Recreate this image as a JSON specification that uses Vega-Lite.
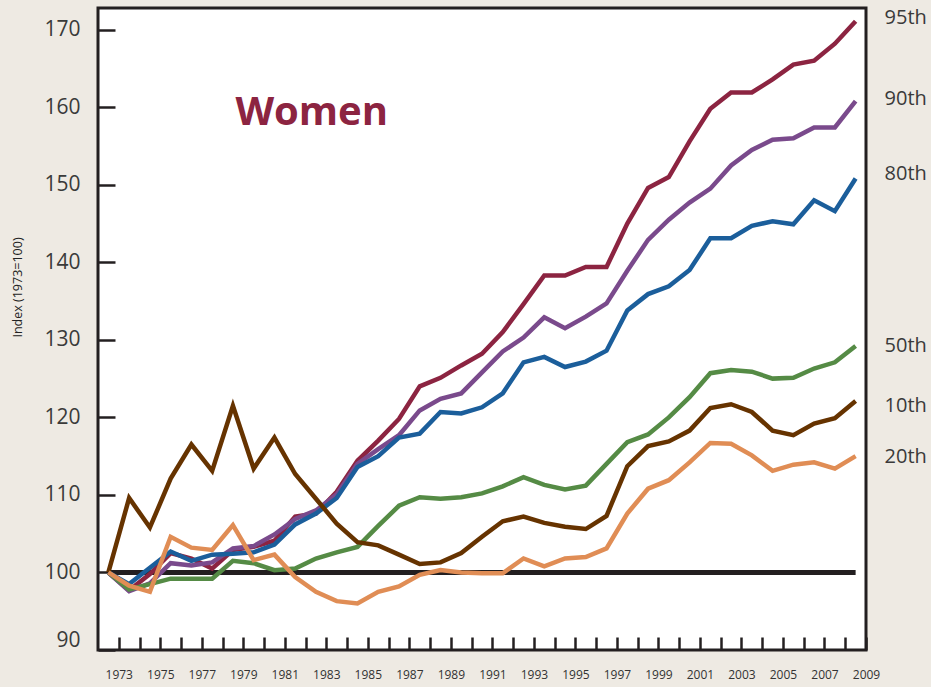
{
  "$schema": "https://vega.github.io/schema/vega-lite/v6.json",
  "width": 768,
  "height": 642,
  "autosize": "none",
  "padding": {"left": 98, "top": 8, "right": 65, "bottom": 37},
  "background": "#eeeae3",
  "config": {
    "view": {"fill": "#ffffff", "stroke": "#231f20", "strokeWidth": 3},
    "font": "Open Sans"
  },
  "datasets": {
    "base": [{"year": 1973, "value": 100}, {"year": 2009, "value": 100}],
    "series": [
      {"year":1973,"pct":"95th","value":100},{"year":1974,"pct":"95th","value":97.7},{"year":1975,"pct":"95th","value":99.8},{"year":1976,"pct":"95th","value":102.5},{"year":1977,"pct":"95th","value":101.8},{"year":1978,"pct":"95th","value":100.5},{"year":1979,"pct":"95th","value":102.9},{"year":1980,"pct":"95th","value":103.3},{"year":1981,"pct":"95th","value":104.1},{"year":1982,"pct":"95th","value":107.2},{"year":1983,"pct":"95th","value":107.6},{"year":1984,"pct":"95th","value":110.4},{"year":1985,"pct":"95th","value":114.4},{"year":1986,"pct":"95th","value":117.0},{"year":1987,"pct":"95th","value":119.8},{"year":1988,"pct":"95th","value":124.0},{"year":1989,"pct":"95th","value":125.1},{"year":1990,"pct":"95th","value":126.7},{"year":1991,"pct":"95th","value":128.2},{"year":1992,"pct":"95th","value":131.0},{"year":1993,"pct":"95th","value":134.6},{"year":1994,"pct":"95th","value":138.3},{"year":1995,"pct":"95th","value":138.3},{"year":1996,"pct":"95th","value":139.4},{"year":1997,"pct":"95th","value":139.4},{"year":1998,"pct":"95th","value":145.0},{"year":1999,"pct":"95th","value":149.6},{"year":2000,"pct":"95th","value":151.0},{"year":2001,"pct":"95th","value":155.6},{"year":2002,"pct":"95th","value":159.8},{"year":2003,"pct":"95th","value":161.9},{"year":2004,"pct":"95th","value":161.9},{"year":2005,"pct":"95th","value":163.6},{"year":2006,"pct":"95th","value":165.5},{"year":2007,"pct":"95th","value":166.0},{"year":2008,"pct":"95th","value":168.2},{"year":2009,"pct":"95th","value":171.1},
      {"year":1973,"pct":"90th","value":100},{"year":1974,"pct":"90th","value":97.6},{"year":1975,"pct":"90th","value":98.6},{"year":1976,"pct":"90th","value":101.2},{"year":1977,"pct":"90th","value":100.9},{"year":1978,"pct":"90th","value":101.3},{"year":1979,"pct":"90th","value":103.1},{"year":1980,"pct":"90th","value":103.4},{"year":1981,"pct":"90th","value":104.9},{"year":1982,"pct":"90th","value":106.9},{"year":1983,"pct":"90th","value":108.0},{"year":1984,"pct":"90th","value":110.1},{"year":1985,"pct":"90th","value":114.0},{"year":1986,"pct":"90th","value":115.9},{"year":1987,"pct":"90th","value":117.7},{"year":1988,"pct":"90th","value":120.9},{"year":1989,"pct":"90th","value":122.4},{"year":1990,"pct":"90th","value":123.1},{"year":1991,"pct":"90th","value":125.8},{"year":1992,"pct":"90th","value":128.5},{"year":1993,"pct":"90th","value":130.3},{"year":1994,"pct":"90th","value":132.9},{"year":1995,"pct":"90th","value":131.5},{"year":1996,"pct":"90th","value":133.0},{"year":1997,"pct":"90th","value":134.7},{"year":1998,"pct":"90th","value":138.9},{"year":1999,"pct":"90th","value":142.9},{"year":2000,"pct":"90th","value":145.5},{"year":2001,"pct":"90th","value":147.7},{"year":2002,"pct":"90th","value":149.5},{"year":2003,"pct":"90th","value":152.5},{"year":2004,"pct":"90th","value":154.5},{"year":2005,"pct":"90th","value":155.8},{"year":2006,"pct":"90th","value":156.0},{"year":2007,"pct":"90th","value":157.4},{"year":2008,"pct":"90th","value":157.4},{"year":2009,"pct":"90th","value":160.8},
      {"year":1973,"pct":"50th","value":100},{"year":1974,"pct":"50th","value":97.8},{"year":1975,"pct":"50th","value":98.5},{"year":1976,"pct":"50th","value":99.2},{"year":1977,"pct":"50th","value":99.2},{"year":1978,"pct":"50th","value":99.2},{"year":1979,"pct":"50th","value":101.5},{"year":1980,"pct":"50th","value":101.2},{"year":1981,"pct":"50th","value":100.3},{"year":1982,"pct":"50th","value":100.5},{"year":1983,"pct":"50th","value":101.8},{"year":1984,"pct":"50th","value":102.6},{"year":1985,"pct":"50th","value":103.3},{"year":1986,"pct":"50th","value":106.0},{"year":1987,"pct":"50th","value":108.6},{"year":1988,"pct":"50th","value":109.7},{"year":1989,"pct":"50th","value":109.5},{"year":1990,"pct":"50th","value":109.7},{"year":1991,"pct":"50th","value":110.2},{"year":1992,"pct":"50th","value":111.1},{"year":1993,"pct":"50th","value":112.3},{"year":1994,"pct":"50th","value":111.3},{"year":1995,"pct":"50th","value":110.7},{"year":1996,"pct":"50th","value":111.2},{"year":1997,"pct":"50th","value":114.0},{"year":1998,"pct":"50th","value":116.8},{"year":1999,"pct":"50th","value":117.8},{"year":2000,"pct":"50th","value":120.0},{"year":2001,"pct":"50th","value":122.6},{"year":2002,"pct":"50th","value":125.7},{"year":2003,"pct":"50th","value":126.1},{"year":2004,"pct":"50th","value":125.9},{"year":2005,"pct":"50th","value":125.0},{"year":2006,"pct":"50th","value":125.1},{"year":2007,"pct":"50th","value":126.3},{"year":2008,"pct":"50th","value":127.1},{"year":2009,"pct":"50th","value":129.2},
      {"year":1973,"pct":"80th","value":100},{"year":1974,"pct":"80th","value":98.5},{"year":1975,"pct":"80th","value":100.6},{"year":1976,"pct":"80th","value":102.7},{"year":1977,"pct":"80th","value":101.5},{"year":1978,"pct":"80th","value":102.3},{"year":1979,"pct":"80th","value":102.4},{"year":1980,"pct":"80th","value":102.6},{"year":1981,"pct":"80th","value":103.6},{"year":1982,"pct":"80th","value":106.2},{"year":1983,"pct":"80th","value":107.6},{"year":1984,"pct":"80th","value":109.6},{"year":1985,"pct":"80th","value":113.6},{"year":1986,"pct":"80th","value":115.0},{"year":1987,"pct":"80th","value":117.4},{"year":1988,"pct":"80th","value":117.9},{"year":1989,"pct":"80th","value":120.7},{"year":1990,"pct":"80th","value":120.5},{"year":1991,"pct":"80th","value":121.3},{"year":1992,"pct":"80th","value":123.1},{"year":1993,"pct":"80th","value":127.1},{"year":1994,"pct":"80th","value":127.8},{"year":1995,"pct":"80th","value":126.5},{"year":1996,"pct":"80th","value":127.2},{"year":1997,"pct":"80th","value":128.6},{"year":1998,"pct":"80th","value":133.8},{"year":1999,"pct":"80th","value":135.9},{"year":2000,"pct":"80th","value":136.9},{"year":2001,"pct":"80th","value":139.0},{"year":2002,"pct":"80th","value":143.1},{"year":2003,"pct":"80th","value":143.1},{"year":2004,"pct":"80th","value":144.7},{"year":2005,"pct":"80th","value":145.3},{"year":2006,"pct":"80th","value":144.9},{"year":2007,"pct":"80th","value":148.0},{"year":2008,"pct":"80th","value":146.6},{"year":2009,"pct":"80th","value":150.8},
      {"year":1973,"pct":"10th","value":100},{"year":1974,"pct":"10th","value":109.6},{"year":1975,"pct":"10th","value":105.8},{"year":1976,"pct":"10th","value":112.1},{"year":1977,"pct":"10th","value":116.5},{"year":1978,"pct":"10th","value":113.1},{"year":1979,"pct":"10th","value":121.5},{"year":1980,"pct":"10th","value":113.4},{"year":1981,"pct":"10th","value":117.4},{"year":1982,"pct":"10th","value":112.7},{"year":1983,"pct":"10th","value":109.5},{"year":1984,"pct":"10th","value":106.3},{"year":1985,"pct":"10th","value":103.9},{"year":1986,"pct":"10th","value":103.5},{"year":1987,"pct":"10th","value":102.3},{"year":1988,"pct":"10th","value":101.1},{"year":1989,"pct":"10th","value":101.3},{"year":1990,"pct":"10th","value":102.5},{"year":1991,"pct":"10th","value":104.6},{"year":1992,"pct":"10th","value":106.6},{"year":1993,"pct":"10th","value":107.2},{"year":1994,"pct":"10th","value":106.4},{"year":1995,"pct":"10th","value":105.9},{"year":1996,"pct":"10th","value":105.6},{"year":1997,"pct":"10th","value":107.3},{"year":1998,"pct":"10th","value":113.7},{"year":1999,"pct":"10th","value":116.3},{"year":2000,"pct":"10th","value":116.9},{"year":2001,"pct":"10th","value":118.3},{"year":2002,"pct":"10th","value":121.2},{"year":2003,"pct":"10th","value":121.7},{"year":2004,"pct":"10th","value":120.7},{"year":2005,"pct":"10th","value":118.3},{"year":2006,"pct":"10th","value":117.7},{"year":2007,"pct":"10th","value":119.2},{"year":2008,"pct":"10th","value":119.9},{"year":2009,"pct":"10th","value":122.1},
      {"year":1973,"pct":"20th","value":100},{"year":1974,"pct":"20th","value":98.3},{"year":1975,"pct":"20th","value":97.5},{"year":1976,"pct":"20th","value":104.6},{"year":1977,"pct":"20th","value":103.2},{"year":1978,"pct":"20th","value":102.9},{"year":1979,"pct":"20th","value":106.1},{"year":1980,"pct":"20th","value":101.6},{"year":1981,"pct":"20th","value":102.3},{"year":1982,"pct":"20th","value":99.4},{"year":1983,"pct":"20th","value":97.5},{"year":1984,"pct":"20th","value":96.3},{"year":1985,"pct":"20th","value":96.0},{"year":1986,"pct":"20th","value":97.5},{"year":1987,"pct":"20th","value":98.2},{"year":1988,"pct":"20th","value":99.7},{"year":1989,"pct":"20th","value":100.3},{"year":1990,"pct":"20th","value":100.0},{"year":1991,"pct":"20th","value":99.9},{"year":1992,"pct":"20th","value":99.9},{"year":1993,"pct":"20th","value":101.8},{"year":1994,"pct":"20th","value":100.8},{"year":1995,"pct":"20th","value":101.8},{"year":1996,"pct":"20th","value":102.0},{"year":1997,"pct":"20th","value":103.1},{"year":1998,"pct":"20th","value":107.6},{"year":1999,"pct":"20th","value":110.8},{"year":2000,"pct":"20th","value":111.9},{"year":2001,"pct":"20th","value":114.2},{"year":2002,"pct":"20th","value":116.7},{"year":2003,"pct":"20th","value":116.6},{"year":2004,"pct":"20th","value":115.1},{"year":2005,"pct":"20th","value":113.1},{"year":2006,"pct":"20th","value":113.9},{"year":2007,"pct":"20th","value":114.2},{"year":2008,"pct":"20th","value":113.4},{"year":2009,"pct":"20th","value":115.0}
    ],
    "endlabels": [
      {"year": 2009, "value": 170.7, "label": "95th"},
      {"year": 2009, "value": 160.3, "label": "90th"},
      {"year": 2009, "value": 150.6, "label": "80th"},
      {"year": 2009, "value": 128.4, "label": "50th"},
      {"year": 2009, "value": 120.7, "label": "10th"},
      {"year": 2009, "value": 114.1, "label": "20th"}
    ],
    "heading": [{"year": 1979.12, "value": 157.7, "label": "Women"}]
  },
  "encoding": {
    "x": {
      "field": "year",
      "type": "quantitative",
      "scale": {"domain": [1972.5, 2009.5], "nice": false, "zero": false},
      "axis": {
        "values": [1973.5,1974.5,1975.5,1976.5,1977.5,1978.5,1979.5,1980.5,1981.5,1982.5,1983.5,1984.5,1985.5,1986.5,1987.5,1988.5,1989.5,1990.5,1991.5,1992.5,1993.5,1994.5,1995.5,1996.5,1997.5,1998.5,1999.5,2000.5,2001.5,2002.5,2003.5,2004.5,2005.5,2006.5,2007.5,2008.5,2009.5],
        "labelExpr": "floor(datum.value) % 2 == 1 ? '' + floor(datum.value) : ''",
        "title": null,
        "grid": false,
        "domain": false,
        "tickSize": -13,
        "tickWidth": 2.5,
        "tickColor": "#231f20",
        "labelPadding": 32,
        "labelFontSize": 12,
        "labelColor": "#333333",
        "labelOverlap": false,
        "labelFlush": false
      }
    },
    "y": {
      "field": "value",
      "type": "quantitative",
      "scale": {"domain": [90, 172.8], "nice": false, "zero": false},
      "axis": {
        "values": [90, 100, 110, 120, 130, 140, 150, 160, 170],
        "title": "Index (1973=100)",
        "titleFontSize": 12.5,
        "titleFontWeight": "normal",
        "titleColor": "#222222",
        "titleX": -81,
        "titleY": 279,
        "titleAngle": 270,
        "titleAlign": "center",
        "titleBaseline": "middle",
        "grid": false,
        "domain": false,
        "tickSize": -17,
        "tickWidth": 2.5,
        "tickColor": "#231f20",
        "labelPadding": 35,
        "labelFontSize": 21,
        "labelColor": "#3a3a3a",
        "labelFlush": true
      }
    }
  },
  "layer": [
    {
      "data": {"name": "base"},
      "mark": {"type": "line", "color": "#231f20", "strokeWidth": 5}
    },
    {
      "data": {"name": "series"},
      "mark": {"type": "line", "strokeWidth": 4.5},
      "encoding": {
        "color": {
          "field": "pct",
          "type": "nominal",
          "scale": {
            "domain": ["95th", "90th", "50th", "80th", "10th", "20th"],
            "range": ["#8c2441", "#7a4a8c", "#558b45", "#1b5e9b", "#663300", "#e08d55"]
          },
          "legend": null
        }
      }
    },
    {
      "data": {"name": "endlabels"},
      "mark": {"type": "text", "align": "left", "baseline": "alphabetic", "dx": 29, "fontSize": 20, "color": "#3a3a3a"},
      "encoding": {"text": {"field": "label"}}
    },
    {
      "data": {"name": "heading"},
      "mark": {"type": "text", "align": "left", "baseline": "alphabetic", "fontSize": 40, "fontWeight": "bold", "color": "#8c2441"},
      "encoding": {"text": {"field": "label"}}
    }
  ]
}
